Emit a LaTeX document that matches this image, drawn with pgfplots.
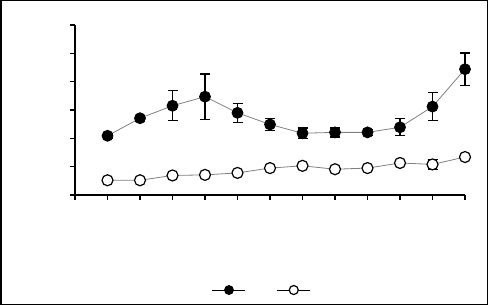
\documentclass[border=0pt]{standalone}
\usepackage{pgfplots}
\pgfplotsset{compat=1.18}
\pgfplotstableread{
x y e
1 2.09 0.08
2 2.71 0.10
3 3.15 0.53
4 3.47 0.80
5 2.90 0.34
6 2.49 0.22
7 2.18 0.18
8 2.21 0.16
9 2.21 0.10
10 2.39 0.30
11 3.12 0.50
12 4.44 0.57
}\filled
\pgfplotstableread{
x y e
1 0.52 0.05
2 0.52 0.05
3 0.69 0.05
4 0.71 0.05
5 0.78 0.05
6 0.95 0.05
7 1.03 0.05
8 0.91 0.05
9 0.95 0.05
10 1.13 0.05
11 1.08 0.17
12 1.34 0.05
}\opened
\begin{document}
\begin{tikzpicture}
\useasboundingbox (0bp,0bp) rectangle (488bp,305bp);
\draw[line width=1.5bp] (0.75bp,0.75bp) rectangle (487.25bp,304.25bp);
\begin{axis}[
  at={(75bp,110bp)}, anchor=south west,
  width=390bp, height=170bp, scale only axis,
  xmin=0, xmax=12, ymin=0, ymax=6,
  axis x line=bottom, axis y line=left,
  axis line style={-, line width=1.3bp},
  xtick={0,...,12}, ytick={0,...,6},
  xticklabels={}, yticklabels={},
  tick style={black, line width=1.1bp},
  tick align=outside, major tick length=5bp,
  clip=false,
  legend columns=2,
  legend style={draw=none, fill=none, at={(0.483,-0.559)}, anchor=center,
    /tikz/every even column/.append style={column sep=27bp}},
  legend image code/.code={\draw[black, line width=0.8bp] (0bp,0bp) -- (33bp,0bp); \draw[mark size=4.5bp] plot coordinates {(16.5bp,0bp)};},
]
\addplot[gray, line width=0.8bp, mark=*, mark size=5.5bp,
  mark options={fill=black, draw=black},
  error bars/.cd, y dir=both, y explicit,
  error bar style={black, line width=1.3bp},
  error mark options={rotate=90, black, mark size=5bp, line width=1.3bp}]
  table[x=x, y=y, y error=e]{\filled};
\addlegendentry{}
\addplot[gray, line width=0.8bp, mark=*, mark size=5.5bp,
  mark options={fill=white, draw=black, line width=1.2bp},
  error bars/.cd, y dir=both, y explicit,
  error bar style={black, line width=1.3bp},
  error mark options={rotate=90, black, mark size=5bp, line width=1.3bp}]
  table[x=x, y=y, y error=e]{\opened};
\addlegendentry{}
\end{axis}
\end{tikzpicture}
\end{document}
